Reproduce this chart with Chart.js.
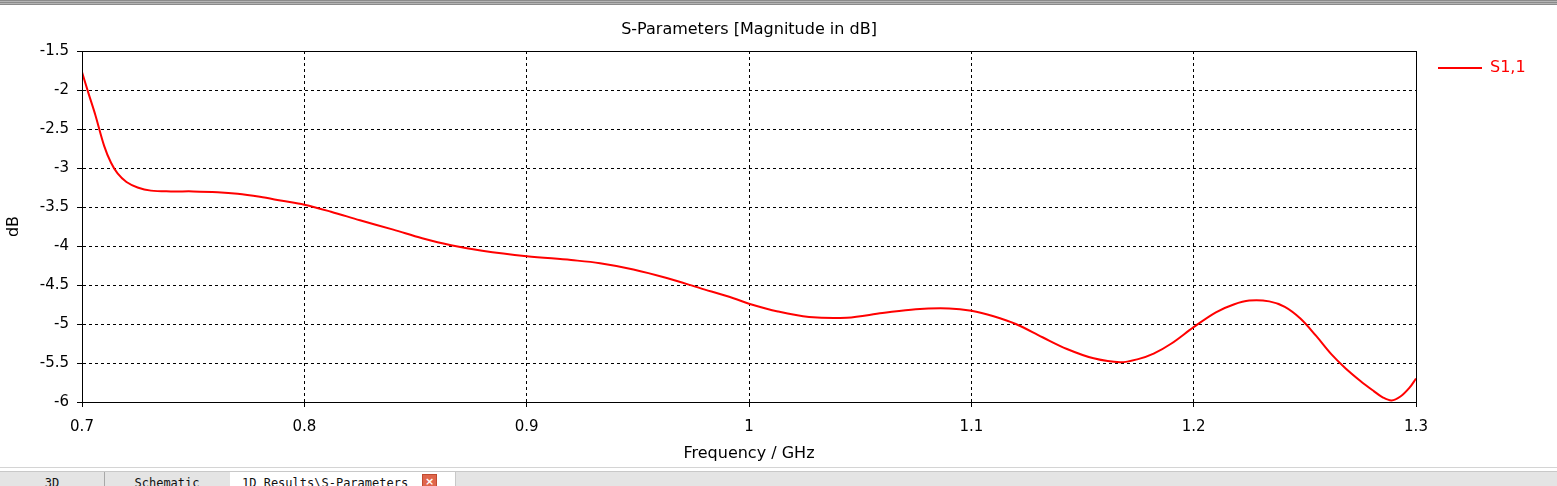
<!DOCTYPE html>
<html lang="en">
  <head>
    <meta charset="UTF-8" />
    <title>S-Parameters</title>
    <style>
      body {
        margin: 0;
        width: 1557px;
        height: 486px;
        overflow: hidden;
        background-color: #ffffff;
        position: relative;
      }
      .top-bar {
        position: absolute;
        left: 0;
        top: 0;
        width: 1557px;
        height: 5px;
        background: repeating-linear-gradient(
          to bottom,
          #8a8a8a 0px,
          #8a8a8a 1px,
          #b4b4b4 1px,
          #b4b4b4 2px
        );
      }
      .chart-container {
        position: absolute;
        left: 0;
        top: 0;
        width: 1557px;
        height: 467px;
      }
      .tab-bar {
        position: absolute;
        left: 0;
        top: 467px;
        width: 1557px;
        height: 19px;
        border-top: 1px solid #d4d4d4;
        background-color: #ffffff;
        overflow: hidden;
      }
      .tab-strip {
        position: absolute;
        left: 0;
        top: 3px;
        width: 1557px;
        height: 16px;
        background-color: #e4e4e4;
        border-top: 1px solid #c8c8c8;
      }
      .tab {
        position: absolute;
        top: 0;
        height: 16px;
        font-family: "DejaVu Sans Mono", monospace;
        font-size: 12px;
        line-height: 22px;
        color: #111;
        text-align: center;
        white-space: nowrap;
        overflow: hidden;
      }
      .tab.sep {
        border-right: 1px solid #a8a8a8;
      }
      .tab.active {
        background-color: #ffffff;
        text-align: left;
      }
      .close-icon {
        position: absolute;
        left: 192px;
        top: 2px;
        width: 15px;
        height: 15px;
        background-color: #e0664c;
        border: 1px solid #c04a30;
        box-sizing: border-box;
        color: #fff;
        font-family: "DejaVu Sans", sans-serif;
        font-size: 11px;
        font-weight: bold;
        line-height: 13px;
        text-align: center;
      }
    </style>
  </head>
  <body>
    <div class="chart-container">
      <canvas id="sparamChart"></canvas>
    </div>
    <div class="top-bar"></div>
    <div class="tab-bar">
      <div class="tab-strip">
        <div class="tab sep" style="left: 0; width: 104px">3D</div>
        <div class="tab" style="left: 105px; width: 124px">Schematic</div>
        <div class="tab active" style="left: 230px; width: 225px">
          <span style="padding-left: 12px">1D Results\S-Parameters</span>
          <div class="close-icon">×</div>
        </div>
        <div class="tab" style="left: 455px; width: 1102px; border-left: 1px solid #c8c8c8"></div>
      </div>
    </div>

    <script src="https://cdn.jsdelivr.net/npm/chart.js"></script>
    <script>
      // 曲線資料 (GHz, dB)
      var freqs = [
        0.7, 0.703, 0.706, 0.71, 0.713, 0.716, 0.72, 0.725, 0.731, 0.74,
        0.75, 0.761, 0.77, 0.78, 0.79, 0.8, 0.812, 0.825, 0.84, 0.853,
        0.866, 0.88, 0.9, 0.92, 0.933, 0.948, 0.963, 0.978, 0.993, 1.0,
        1.013, 1.027, 1.044, 1.06, 1.075, 1.09, 1.1, 1.11, 1.12, 1.132,
        1.143, 1.155, 1.167, 1.175, 1.182, 1.19, 1.2, 1.21, 1.218, 1.225,
        1.234, 1.241, 1.248, 1.255, 1.262, 1.268, 1.275, 1.281, 1.285,
        1.289, 1.293, 1.297, 1.3,
      ];
      var s11 = [
        -1.77, -2.05, -2.32, -2.72, -2.93, -3.07, -3.18, -3.25, -3.29, -3.3,
        -3.3, -3.31, -3.33, -3.37, -3.42, -3.47, -3.56, -3.67, -3.79, -3.9,
        -3.99, -4.06, -4.13, -4.18, -4.22, -4.3, -4.41, -4.54, -4.67, -4.74,
        -4.84, -4.91, -4.92, -4.86, -4.81, -4.8, -4.83, -4.9, -5.0, -5.17,
        -5.32, -5.44, -5.49, -5.45, -5.38, -5.25, -5.04, -4.85, -4.75, -4.7,
        -4.71, -4.78, -4.93, -5.15, -5.39, -5.56, -5.73, -5.86, -5.94,
        -5.98, -5.93, -5.82, -5.7,
      ];
      var xTicks = [0.7, 0.8, 0.9, 1, 1.1, 1.2, 1.3];
      var yTicks = [-1.5, -2, -2.5, -3, -3.5, -4, -4.5, -5, -5.5, -6];

      var chartTitle = "S-Parameters [Magnitude in dB]";

      Chart.defaults.font.family = "'DejaVu Sans', sans-serif";
      Chart.defaults.font.size = 15;
      Chart.defaults.color = "#000";

      // 外框 + 標題 + 圖例
      var framePlugin = {
        id: "frame",
        afterDraw: function (chart) {
          var ctx = chart.ctx;
          var a = chart.chartArea;
          ctx.save();
          ctx.strokeStyle = "#000";
          ctx.lineWidth = 1;
          ctx.strokeRect(
            Math.round(a.left) + 0.5,
            Math.round(a.top) + 0.5,
            Math.round(a.right - a.left),
            Math.round(a.bottom - a.top)
          );

          ctx.fillStyle = "#000";
          ctx.font = "16px 'DejaVu Sans'";
          ctx.textAlign = "center";
          ctx.textBaseline = "middle";
          ctx.fillText(chartTitle, (a.left + a.right) / 2, 30);

          var ds = chart.data.datasets[0];
          ctx.strokeStyle = ds.borderColor;
          ctx.lineWidth = 2;
          ctx.beginPath();
          ctx.moveTo(1438, 68);
          ctx.lineTo(1482, 68);
          ctx.stroke();
          ctx.fillStyle = ds.borderColor;
          ctx.textAlign = "left";
          ctx.fillText(ds.label, 1490, 68);
          ctx.restore();
        },
      };

      var ctxMain = document.getElementById("sparamChart").getContext("2d");
      var sparamChart = new Chart(ctxMain, {
        type: "line",
        data: {
          datasets: [
            {
              label: "S1,1",
              data: freqs.map(function (f, i) {
                return { x: f, y: s11[i] };
              }),
              borderColor: "#ff0000",
              borderWidth: 2,
              pointRadius: 0,
              tension: 0.35,
              fill: false,
            },
          ],
        },
        options: {
          responsive: true,
          maintainAspectRatio: false,
          animation: false,
          layout: {
            padding: { left: 0, top: 51, right: 141, bottom: 0 },
          },
          plugins: {
            legend: { display: false },
            tooltip: { enabled: false },
          },
          scales: {
            x: {
              type: "linear",
              min: 0.7,
              max: 1.3,
              afterBuildTicks: function (scale) {
                scale.ticks = xTicks.map(function (v) {
                  return { value: v };
                });
              },
              afterFit: function (scale) {
                scale.height = 65;
              },
              ticks: {
                padding: 11,
                maxRotation: 0,
                callback: function (v) {
                  return String(parseFloat(v.toFixed(2)));
                },
              },
              grid: {
                color: "#000",
                tickLength: 5,
                tickBorderDash: [],
              },
              border: { color: "#000", dash: [3, 3] },
              title: {
                display: true,
                text: "Frequency / GHz",
                font: { size: 16 },
                padding: { top: 0, bottom: 4 },
              },
            },
            y: {
              min: -6,
              max: -1.5,
              afterBuildTicks: function (scale) {
                scale.ticks = yTicks.map(function (v) {
                  return { value: v };
                });
              },
              afterFit: function (scale) {
                scale.width = 82;
              },
              ticks: {
                padding: 8,
                callback: function (v) {
                  return String(parseFloat(v.toFixed(2)));
                },
              },
              grid: {
                color: "#000",
                tickLength: 5,
                tickBorderDash: [],
              },
              border: { color: "#000", dash: [3, 3] },
              title: {
                display: true,
                text: "dB",
                font: { size: 16 },
                padding: { top: 4, bottom: 0 },
              },
            },
          },
        },
        plugins: [framePlugin],
      });
    </script>
  </body>
</html>
